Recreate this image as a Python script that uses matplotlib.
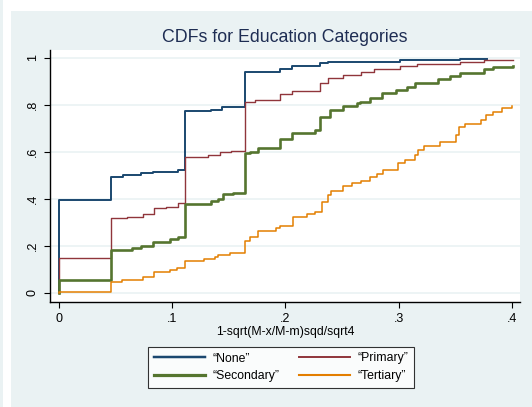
import matplotlib
matplotlib.use("Agg")
import matplotlib.pyplot as plt
from matplotlib.patches import Rectangle
from matplotlib.lines import Line2D

# step CDFs: (x of jump, value after jump)
none_x = [0, 0, 0.046, 0.057, 0.073, 0.0835, 0.1056, 0.1115, 0.134, 0.144,
          0.164, 0.195, 0.206, 0.2306, 0.238, 0.301, 0.354, 0.378]
none_y = [0, 0.395, 0.495, 0.502, 0.509, 0.516, 0.523, 0.774, 0.78, 0.792,
          0.942, 0.952, 0.965, 0.977, 0.982, 0.993, 0.997, 0.997]

primary_x = [0, 0, 0.046, 0.06, 0.0746, 0.084, 0.095, 0.105, 0.1115, 0.132,
             0.142, 0.152, 0.164, 0.1733, 0.195, 0.206, 0.2306, 0.238, 0.251,
             0.267, 0.278, 0.301, 0.316, 0.354, 0.375, 0.401]
primary_y = [0, 0.148, 0.32, 0.325, 0.336, 0.36, 0.366, 0.382, 0.58, 0.588,
             0.599, 0.606, 0.814, 0.821, 0.846, 0.86, 0.892, 0.914, 0.928,
             0.942, 0.952, 0.966, 0.973, 0.982, 0.991, 0.993]

secondary_x = [0, 0, 0.046, 0.065, 0.073, 0.083, 0.098, 0.105, 0.1115, 0.134,
               0.141, 0.145, 0.154, 0.164, 0.169, 0.176, 0.195, 0.206, 0.226,
               0.231, 0.2395, 0.251, 0.263, 0.266, 0.275, 0.285, 0.298, 0.307,
               0.3145, 0.335, 0.345, 0.354, 0.375, 0.383, 0.401]
secondary_y = [0, 0.056, 0.183, 0.19, 0.2, 0.218, 0.228, 0.238, 0.38, 0.39,
               0.4, 0.42, 0.427, 0.594, 0.601, 0.616, 0.654, 0.682, 0.694,
               0.75, 0.779, 0.796, 0.807, 0.814, 0.828, 0.85, 0.864, 0.875,
               0.895, 0.909, 0.923, 0.937, 0.952, 0.96, 0.966]

tertiary_x = [0, 0, 0.046, 0.056, 0.0746, 0.084, 0.098, 0.104, 0.1115, 0.128,
              0.138, 0.141, 0.151, 0.164, 0.169, 0.176, 0.192, 0.195, 0.2065,
              0.219, 0.226, 0.232, 0.238, 0.24, 0.251, 0.2586, 0.267, 0.275,
              0.281, 0.2865, 0.2997, 0.3056, 0.3145, 0.3174, 0.322, 0.3365,
              0.3507, 0.3536, 0.3586, 0.373, 0.377, 0.383, 0.391, 0.4]
tertiary_y = [0, 0.005, 0.048, 0.055, 0.067, 0.091, 0.098, 0.105, 0.137, 0.145,
              0.155, 0.162, 0.172, 0.223, 0.24, 0.264, 0.275, 0.285, 0.325,
              0.335, 0.346, 0.389, 0.417, 0.435, 0.455, 0.467, 0.478, 0.492,
              0.506, 0.523, 0.552, 0.566, 0.587, 0.609, 0.626, 0.644,
              0.672, 0.705, 0.718, 0.736, 0.757, 0.769, 0.786, 0.797]

labels = ["\u201cNone\u201d", "\u201cPrimary\u201d", "\u201cSecondary\u201d", "\u201cTertiary\u201d"]
colors = ["#1a476f", "#90353b", "#55752f", "#e37e00"]
widths = [1.4, 1.0, 1.9, 1.1]

yticks = [0, 0.2, 0.4, 0.6, 0.8, 1]
ytick_labels = ["0", ".2", ".4", ".6", ".8", "1"]
xticks = [0, 0.1, 0.2, 0.3, 0.4]
xtick_labels = ["0", ".1", ".2", ".3", ".4"]

plt.rcParams['font.family'] = ['Liberation Sans', 'DejaVu Sans']
bg = "#eaf2f3"

fig = plt.figure(figsize=(5.32, 4.07), dpi=100)
fig.patch.set_facecolor("white")
fig.patches.append(Rectangle((11 / 532, 0), 1, 396 / 407, transform=fig.transFigure,
                             facecolor=bg, edgecolor="none", zorder=-10))
fig.patches.append(Rectangle((0, 0), 3 / 532, 1, transform=fig.transFigure,
                             facecolor=bg, edgecolor="none", zorder=-10))

ax = fig.add_axes([50 / 532, 1 - 302 / 407, 470 / 532, 252 / 407])
ax.set_facecolor("white")
for y in yticks:
    ax.axhline(y, color=bg, lw=1.2, zorder=0)

series = [(none_x, none_y), (primary_x, primary_y), (secondary_x, secondary_y), (tertiary_x, tertiary_y)]
for (xs, ys), c, w in zip(series, colors, widths):
    ax.step(xs, ys, where="post", color=c, lw=w, zorder=2)

ax.set_xlim(-0.0077, 0.4071)
ax.set_ylim(-0.0383, 1.034)
ax.spines["top"].set_visible(False)
ax.spines["right"].set_visible(False)
ax.spines["left"].set_linewidth(1.0)
ax.spines["bottom"].set_linewidth(1.0)
ax.set_yticks(yticks)
ax.set_yticklabels(ytick_labels, rotation=90, va="center")
ax.set_xticks(xticks)
ax.set_xticklabels(xtick_labels)
ax.tick_params(length=4, width=0.8, labelsize=9, colors="black", pad=4)

ax.set_title("CDFs for Education Categories", fontsize=12.8, color="#1e2d53", pad=6)
ax.set_xlabel("1-sqrt(M-x/M-m)sqd/sqrt4", fontsize=8.8, labelpad=1)

handles = [Line2D([], [], color=c, lw=w + 0.4) for c, w in zip(colors, widths)]
order = [0, 2, 1, 3]
leg = fig.legend([handles[i] for i in order], [labels[i] for i in order], ncol=2,
                 loc="upper left", bbox_to_anchor=(148 / 532, 1 - 347 / 407),
                 fontsize=8.8, frameon=True, fancybox=False, handlelength=4.2,
                 columnspacing=1.6, borderpad=0.45, labelspacing=0.45,
                 handletextpad=0.6, borderaxespad=0)
leg.get_frame().set_edgecolor("black")
leg.get_frame().set_linewidth(0.8)

fig.savefig("out.png", dpi=100)
